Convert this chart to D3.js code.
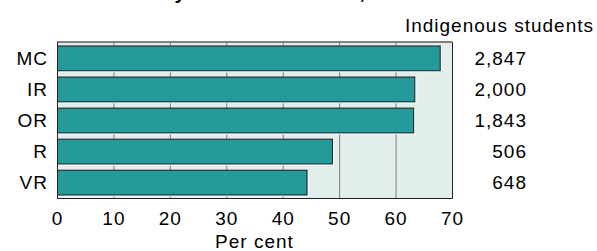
<!DOCTYPE html>
<meta charset="utf-8">
<script src="https://cdn.jsdelivr.net/npm/d3@7"></script>
<style>
body { margin: 0; background: #fff; }
text { font-family: "Liberation Sans", Arial, sans-serif; fill: #000; font-size: 19px; letter-spacing: 1px; }
</style>
<svg width="597" height="251"></svg>
<script>

// data
var categories = ["MC", "IR", "OR", "R", "VR"];
var percents = [68.0, 63.5, 63.3, 48.9, 44.4];
var students = ["2,847", "2,000", "1,843", "506", "648"];
var xTicks = [0, 10, 20, 30, 40, 50, 60, 70];

var svg = d3.select("svg"),
    pLeft = 57, pRight = 452, pTop = 43, pBottom = 198;

var x = d3.scaleLinear().domain([0, 70]).range([pLeft, pRight]);
var y = d3.scaleBand().domain(categories).range([pTop, pBottom]).paddingInner(0.17).paddingOuter(0.08);

// title, mostly cut off at the top edge
svg.append("text")
    .attr("x", 415).attr("y", -1)
    .attr("text-anchor", "end")
    .style("font-weight", "bold").style("font-size", "20px").style("letter-spacing", "0px")
    .text("Attendance by Remoteness Area, 2008");

// plot background
svg.append("rect")
    .attr("x", pLeft).attr("y", pTop)
    .attr("width", pRight - pLeft).attr("height", pBottom - pTop)
    .attr("fill", "#e2eeeb");

// gridlines
svg.selectAll(".grid")
    .data(xTicks.slice(1, -1))
  .enter().append("line")
    .attr("x1", function(d) { return x(d) + 0.5; }).attr("x2", function(d) { return x(d) + 0.5; })
    .attr("y1", pTop).attr("y2", pBottom)
    .attr("stroke", "#7a7f7e").attr("stroke-width", 1);

// bars: white highlight offset, then teal bar with dark edge
var bar = svg.selectAll(".bar")
    .data(categories)
  .enter().append("g");

bar.append("rect")
    .attr("x", pLeft + 1)
    .attr("y", function(d) { return y(d) + 1; })
    .attr("width", function(d, i) { return x(percents[i]) - pLeft; })
    .attr("height", y.bandwidth())
    .attr("fill", "#ffffff");

bar.append("rect")
    .attr("x", pLeft + 0.5)
    .attr("y", function(d) { return y(d) + 0.5; })
    .attr("width", function(d, i) { return x(percents[i]) - pLeft - 1; })
    .attr("height", y.bandwidth() - 1)
    .attr("fill", "#259a9a")
    .attr("stroke", "#1a1a1a").attr("stroke-width", 1);

// frame
svg.append("line")
    .attr("x1", pLeft).attr("x2", pRight).attr("y1", pTop - 1).attr("y2", pTop - 1)
    .attr("stroke", "#808080").attr("stroke-width", 2);
svg.append("path")
    .attr("d", "M" + (pLeft + 0.5) + "," + (pTop - 1) + "V" + (pBottom + 0.5) + "H" + (pRight + 0.5) + "V" + (pTop - 1))
    .attr("fill", "none").attr("stroke", "#222").attr("stroke-width", 1);

// category labels
svg.selectAll(".cat")
    .data(categories)
  .enter().append("text")
    .attr("x", pLeft - 9)
    .attr("y", function(d) { return y(d) + y.bandwidth() / 2; })
    .attr("dy", "0.36em")
    .attr("text-anchor", "end")
    .text(function(d) { return d; });

// student counts
svg.append("text")
    .attr("x", 594).attr("y", 32)
    .attr("text-anchor", "end")
    .text("Indigenous students");

svg.selectAll(".num")
    .data(categories)
  .enter().append("text")
    .attr("x", 527)
    .attr("y", function(d) { return y(d) + y.bandwidth() / 2; })
    .attr("dy", "0.36em")
    .attr("text-anchor", "end")
    .text(function(d, i) { return students[i]; });

// x axis labels
svg.selectAll(".tick")
    .data(xTicks)
  .enter().append("text")
    .attr("x", function(d) { return x(d) + 0.5; })
    .attr("y", 225)
    .attr("text-anchor", "middle")
    .text(function(d) { return d; });

svg.append("text")
    .attr("x", (pLeft + pRight) / 2).attr("y", 248)
    .attr("text-anchor", "middle")
    .text("Per cent");

</script>
